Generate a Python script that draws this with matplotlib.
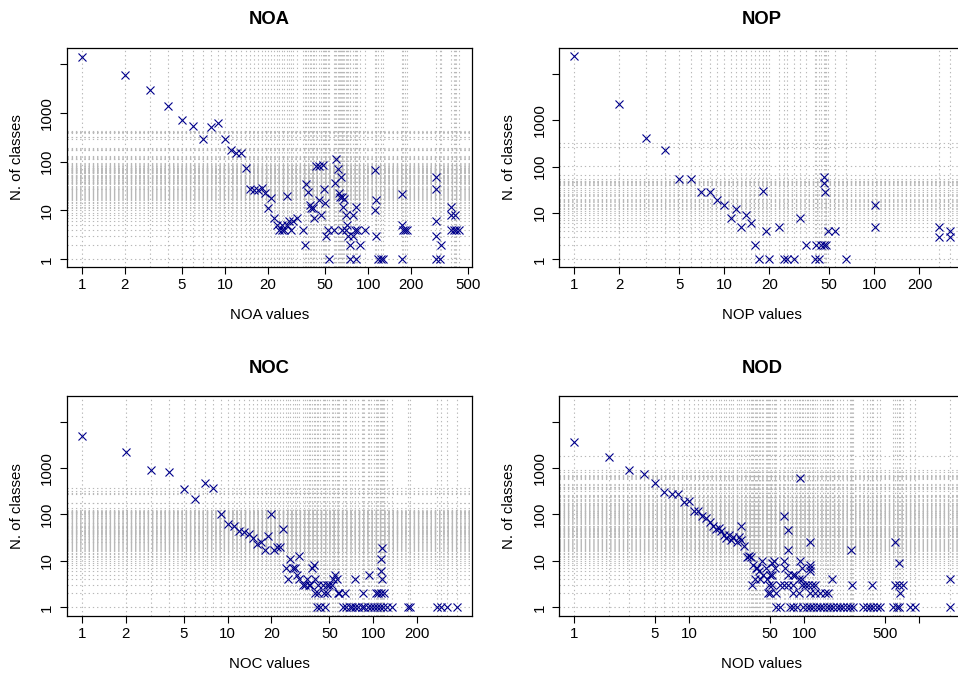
import matplotlib
matplotlib.use("Agg")
import matplotlib.pyplot as plt
from matplotlib.ticker import FixedLocator, NullLocator

plt.rcParams['font.family'] = ['Liberation Sans', 'DejaVu Sans']

# --- valores (x = valor de la metrica, y = numero de clases) ---
noa_x = [1, 2, 3, 4, 5, 6, 7, 8, 9, 10, 11, 12, 13, 14, 15, 16, 17, 18, 19, 20,
         21, 22, 23, 24, 25, 25, 26, 27, 27, 28, 29, 30, 32, 35, 36, 37, 38, 39, 40, 41,
         42, 43, 45, 48, 45, 47, 49, 50, 51, 52, 53, 58, 59, 60, 61, 62, 63, 65, 66, 68,
         66, 70, 67, 70, 71, 72, 74, 75, 78, 78, 81, 84, 82, 82, 87, 95, 112, 112, 114, 114,
         117, 122, 127, 172, 172, 175, 180, 187, 172, 295, 295, 295, 295, 295, 317, 320,
         380, 380, 400, 380, 395, 410, 430]
noa_y = [14000, 5900, 2900, 1350, 720, 540, 290, 510, 615, 290, 173, 146, 150, 73, 27, 26, 26, 29, 23, 11,
         18, 7, 5, 4, 5, 4, 4, 20, 5, 6, 4, 6, 7, 4, 2, 34, 24, 13, 11, 11,
         7, 82, 80, 84, 16, 8, 27, 14, 3, 4, 1, 4, 37, 111, 70, 23, 19, 49, 19, 17,
         4, 4, 12, 8, 5, 3, 2, 1, 8, 3, 4, 4, 12, 1, 2, 4, 66, 10, 16, 3,
         1, 1, 1, 22, 5, 4, 4, 4, 1, 49, 27, 6, 3, 1, 1, 2,
         12, 8, 8, 4, 4, 4, 4]

nop_x = [1, 2, 3, 4, 5, 6, 7, 8, 9, 10, 11, 12, 13, 14, 15, 16, 17, 18, 19, 20,
         23, 25, 26, 29, 32, 35, 40, 41, 43, 44, 46, 46, 47, 46, 48, 49, 55, 65,
         101, 101, 270, 270, 318, 318]
nop_y = [25000, 2250, 420, 230, 55, 53, 28, 28, 19, 15, 8, 12, 5, 9, 6, 2, 1, 30, 4, 1,
         5, 1, 1, 1, 8, 2, 1, 2, 1, 2, 45, 61, 28, 2, 2, 4, 4, 1,
         15, 5, 5, 3, 4, 3]

noc_x = [1, 2, 3, 4, 5, 6, 7, 8, 9, 10, 11, 12, 13, 14, 15, 16, 17, 18, 19, 20,
         21, 22, 23, 24, 25, 26, 27, 28, 29, 30, 31, 31, 33, 34, 35, 36, 37, 38, 39, 40,
         42, 45, 48, 50, 40, 42, 46, 48, 41, 43, 47, 52, 53, 55, 56, 57, 58, 64,
         62, 65, 69, 71, 75, 79, 83, 87, 92, 96, 101, 106, 111, 117, 124, 135,
         75, 85, 94, 104, 107, 113, 118, 113, 113, 115, 115,
         174, 178, 272, 290, 318, 378]
noc_y = [4900, 2180, 907, 822, 354, 215, 476, 371, 104, 61, 57, 45, 41, 37, 31, 23, 25, 17, 34, 100,
         17, 20, 20, 48, 7, 4, 11, 7, 7, 5, 13, 4, 3, 3, 4, 3, 3, 7, 8, 4,
         3, 3, 3, 3, 2, 2, 2, 2, 1, 1, 1, 3, 4, 5, 4, 2, 2, 2,
         1, 1, 1, 1, 1, 1, 1, 1, 1, 1, 1, 1, 1, 1, 1, 1,
         4, 2, 5, 2, 2, 2, 2, 6, 11, 19, 4,
         1, 1, 1, 1, 1, 1]

nod_x = [1, 2, 3, 4, 5, 6, 7, 8, 9, 10, 11, 12, 13, 14, 15, 16, 17, 18, 19, 20,
         21, 22, 23, 24, 26, 27, 28, 28, 30, 32, 33, 34, 35, 36, 37, 38, 39, 40, 41, 43,
         44, 46, 47, 48, 49,
         50, 50, 52, 52, 52, 54, 56, 57, 57, 61, 61, 66, 66, 66, 68, 72, 72, 72, 72, 75,
         80, 80, 80, 80, 83, 86, 89, 89, 92, 92, 95, 95, 95, 98, 101, 105, 108, 112, 112, 112,
         112, 112, 112, 116, 120, 124, 124, 128, 137, 137, 146, 151, 156, 162, 167, 173, 179, 191,
         204, 218, 234, 250, 253, 258, 267, 326, 349, 373, 385, 398, 426, 455, 594, 614, 614, 635,
         670, 670, 670, 679, 716, 830, 917, 1848, 1848]
nod_y = [3600, 1750, 920, 760, 484, 307, 271, 271, 185, 195, 119, 119, 92, 82, 70, 56, 48, 50, 45, 36,
         31, 36, 28, 33, 26, 33, 56, 28, 21, 12, 13, 12, 3, 8, 4, 7, 7, 6, 4, 10,
         5, 7, 4, 2, 3,
         5, 2, 9, 5, 3, 10, 7, 2, 1, 3, 1, 93, 10, 3, 7, 46, 17, 5, 3, 1,
         5, 3, 2, 1, 5, 1, 4, 2, 600, 10, 7, 4, 3, 1, 3, 1, 3, 25, 8, 6,
         7, 2, 1, 3, 1, 3, 2, 1, 2, 1, 1, 2, 1, 2, 1, 4, 1, 1,
         1, 1, 1, 1, 17, 3, 1, 1, 1, 1, 3, 1, 1, 1, 1, 26, 3, 1,
         9, 3, 1, 2, 3, 1, 1, 4, 1]

noa_ticks = [1, 2, 5, 10, 20, 50, 100, 200, 500]
nop_ticks = [1, 2, 5, 10, 20, 50, 100, 200]
noc_ticks = [1, 2, 5, 10, 20, 50, 100, 200]
nod_ticks = [1, 5, 10, 50, 100, 500, 1000]
nod_tick_labels = ['1', '5', '10', '50', '100', '500', '']
y_ticks = [1, 10, 100, 1000, 10000]
y_tick_labels = ['1', '10', '100', '1000', '']

W, H = 958, 675
fig = plt.figure(figsize=(W / 100, H / 100), dpi=100)

# (nombre, x, y, caja en px (izq, arriba, der, abajo), xlim log10, ylim log10, ticks, etiquetas)
paneles = [
    ('NOA', noa_x, noa_y, (66.7, 47.7, 472, 267), (-0.105, 2.724), (-0.157, 4.327), noa_ticks, None),
    ('NOP', nop_x, nop_y, (559.3, 47.7, 964.6, 267), (-0.1, 2.602), (-0.165, 4.568), nop_ticks, None),
    ('NOC', noc_x, noc_y, (66.7, 396, 472, 615.7), (-0.103, 2.677), (-0.18, 4.55), noc_ticks, None),
    ('NOD', nod_x, nod_y, (559.3, 396, 964.6, 615.7), (-0.131, 3.393), (-0.18, 4.55), nod_ticks, nod_tick_labels),
]

gris = '#b8b8b8'
for nombre, x, y, caja, xl, yl, xt, xtl in paneles:
    l, t, r, b = caja
    ax = fig.add_axes([l / W, 1 - b / H, (r - l) / W, (b - t) / H])
    ax.set_xscale('log')
    ax.set_yscale('log')
    for v in sorted(set(x)):
        ax.axvline(v, color=gris, lw=0.8, dashes=(1.2, 2.6), zorder=1)
        ax.axhline(v, color=gris, lw=0.8, dashes=(1.2, 2.6), zorder=1)
    ax.plot(x, y, 'x', color='darkblue', ms=6, mew=0.8, zorder=3)
    ax.set_xlim(10 ** xl[0], 10 ** xl[1])
    ax.set_ylim(10 ** yl[0], 10 ** yl[1])

    ax.xaxis.set_major_locator(FixedLocator(xt))
    ax.xaxis.set_minor_locator(NullLocator())
    ax.yaxis.set_major_locator(FixedLocator(y_ticks))
    ax.yaxis.set_minor_locator(NullLocator())
    ax.set_xticklabels(xtl if xtl else [str(v) for v in xt])
    ax.set_yticklabels(y_tick_labels, rotation=90, va='center')
    ax.tick_params(direction='out', length=5, width=0.8, labelsize=10.8, pad=3)
    ax.tick_params(axis='y', pad=4)
    for s in ax.spines.values():
        s.set_linewidth(0.9)

    cx = (l + r) / 2 / W
    fig.text(cx, 1 - (t - 27.7) / H, nombre, ha='center', va='center',
             fontsize=13.3, fontweight='bold')
    fig.text(cx, 1 - (b + 48) / H, nombre + ' values', ha='center', va='center', fontsize=10.8)
    fig.text((l - 50) / W, 1 - (t + b) / 2 / H, 'N. of classes', ha='center', va='center',
             rotation=90, fontsize=10.8)

fig.savefig('out.png', dpi=100)
